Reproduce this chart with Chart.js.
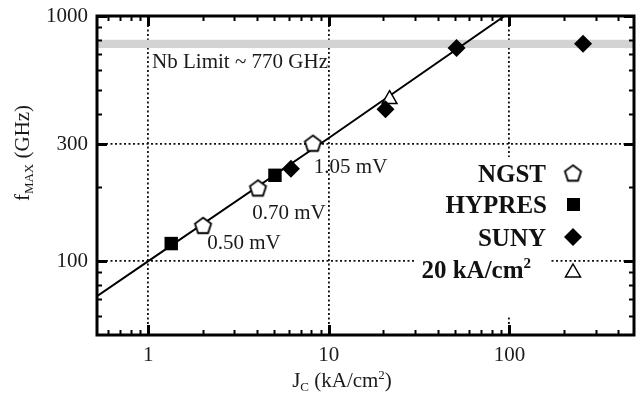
<!DOCTYPE html>
<html>
<head>
<meta charset="utf-8">
<script src="https://cdn.jsdelivr.net/npm/chart.js@4.4.1/dist/chart.umd.min.js"></script>
<style>
  html, body { margin: 0; padding: 0; background: #fff; }
  canvas { display: block; }
</style>
</head>
<body>
<canvas id="fmaxChart" width="644" height="399"></canvas>
<script>
// Jc in kA/cm2, fMAX in GHz
const ngstJc = [2.01, 4.05, 8.16];
const ngstF = [140, 199, 303];
const hypresJc = [1.34, 5.03];
const hypresF = [118, 224];
const sunyJc = [6.17, 20.6, 51, 256];
const sunyF = [238, 417, 740, 770];
const jc20Jc = [21.7];
const jc20F = [458];
// the fit line
const fitJc = [0.52, 1, 10, 94];
const fitF = [72, 100, 318, 1000];
// Nb limit band (GHz)
const nbLimitBand = [740, 800];

const xMajorTicks = [1, 10, 100];
const xMinorTicks = [0.6, 0.7, 0.8, 0.9, 2, 3, 4, 5, 6, 7, 8, 9, 20, 30, 40, 50, 60, 70, 80, 90, 200, 300, 400];
const yMajorTicks = [100, 300, 1000];
const yMinorTicks = [60, 70, 80, 90, 200, 400, 500, 600, 700, 800, 900];
const xGridAt = [1, 10, 100];
const yGridAt = [100, 300];

const voltageLabels = ['0.50 mV', '0.70 mV', '1.05 mV'];
const voltageJc = [2.12, 3.76, 8.26];
const voltageF = [118, 157, 242];
const nbLimitText = 'Nb Limit ~ 770 GHz';

const serif = '"Liberation Serif", "Times New Roman", serif';
const pts = (xs, ys) => xs.map((v, i) => ({x: v, y: ys[i]}));

function pentagon(r) {
  const s = Math.ceil(r * 2 + 4);
  const c = document.createElement('canvas');
  c.width = s; c.height = s;
  const g = c.getContext('2d');
  g.beginPath();
  for (let i = 0; i < 5; i++) {
    const a = -Math.PI / 2 + i * 2 * Math.PI / 5;
    const px = s / 2 + r * Math.cos(a), py = s / 2 + r * Math.sin(a) + r * 0.1;
    if (i) g.lineTo(px, py); else g.moveTo(px, py);
  }
  g.closePath();
  g.fillStyle = '#fff';
  g.fill();
  g.lineWidth = 1.8;
  g.strokeStyle = '#000';
  g.stroke();
  return c;
}
const penta = pentagon(8.5);

// draws text pieces [text, size, dy] one after another
function richText(ctx, parts, x, y, align, bold) {
  const w = parts.reduce((s, p) => {
    ctx.font = (bold ? 'bold ' : '') + p[1] + 'px ' + serif;
    return s + ctx.measureText(p[0]).width;
  }, 0);
  let cx = align === 'center' ? x - w / 2 : (align === 'right' ? x - w : x);
  ctx.textAlign = 'left';
  ctx.textBaseline = 'alphabetic';
  for (const p of parts) {
    ctx.font = (bold ? 'bold ' : '') + p[1] + 'px ' + serif;
    ctx.fillText(p[0], cx, y + p[2]);
    cx += ctx.measureText(p[0]).width;
  }
}

const decor = {
  id: 'decor',
  beforeDatasetsDraw(chart) {
    const {ctx, chartArea: a, scales: {x, y}} = chart;
    ctx.save();
    // Nb limit band
    const yTop = y.getPixelForValue(nbLimitBand[1]);
    const yBot = y.getPixelForValue(nbLimitBand[0]);
    ctx.fillStyle = '#d3d3d3';
    ctx.fillRect(a.left, yTop, a.right - a.left, yBot - yTop);
    // white box behind the legend
    ctx.fillStyle = '#fff';
    ctx.fillRect(416, 157, 134, 158);
    ctx.fillStyle = '#1a1a1a';
    ctx.font = '21px ' + serif;
    ctx.textAlign = 'left';
    ctx.textBaseline = 'middle';
    ctx.fillText(nbLimitText, x.getPixelForValue(1.05), y.getPixelForValue(649));
    voltageLabels.forEach((t, i) => {
      ctx.fillText(t, x.getPixelForValue(voltageJc[i]), y.getPixelForValue(voltageF[i]));
    });
    ctx.restore();
  },
  afterDraw(chart) {
    const {ctx, chartArea: a, scales: {x, y}} = chart;
    ctx.save();
    ctx.strokeStyle = '#000';
    const line = (x1, y1, x2, y2, w) => {
      ctx.lineWidth = w;
      ctx.beginPath(); ctx.moveTo(x1, y1); ctx.lineTo(x2, y2); ctx.stroke();
    };
    xMajorTicks.concat(xMinorTicks).forEach(v => {
      const major = xMajorTicks.includes(v);
      const px = Math.round(x.getPixelForValue(v)) + 0.5;
      const len = major ? 10 : 5;
      line(px, a.bottom, px, a.bottom - len, major ? 3 : 2);
      line(px, a.top, px, a.top + len, major ? 3 : 2);
    });
    yMajorTicks.concat(yMinorTicks).forEach(v => {
      const major = yMajorTicks.includes(v);
      const py = Math.round(y.getPixelForValue(v)) + 0.5;
      const len = major ? 10 : 5;
      line(a.left, py, a.left + len, py, major ? 3 : 2);
      line(a.right, py, a.right - len, py, major ? 3 : 2);
    });
    ctx.lineWidth = 3;
    ctx.strokeRect(a.left, a.top, a.right - a.left, a.bottom - a.top);

    // axis titles
    ctx.fillStyle = '#1a1a1a';
    richText(ctx, [['J', 21, 0], ['C', 13, 4], [' (kA/cm', 21, 0], ['2', 13, -8], [')', 21, 0]], 342, 387, 'center', false);
    ctx.save();
    ctx.translate(29, 153);
    ctx.rotate(-Math.PI / 2);
    richText(ctx, [['f', 21, 0], ['MAX', 13, 4], [' (GHz)', 21, 0]], 0, 0, 'center', false);
    ctx.restore();

    // legend
    ctx.fillStyle = '#111';
    richText(ctx, [['NGST', 25, 0]], 546, 182, 'right', true);
    richText(ctx, [['HYPRES', 25, 0]], 547, 213, 'right', true);
    richText(ctx, [['SUNY', 25, 0]], 546, 246, 'right', true);
    richText(ctx, [['20 kA/cm', 25, 0], ['2', 15, -10]], 531, 278, 'right', true);
    ctx.drawImage(penta, 573 - penta.width / 2, 173 - penta.height / 2);
    ctx.fillStyle = '#000';
    ctx.fillRect(567, 198, 13, 13);
    ctx.beginPath();
    ctx.moveTo(573, 228); ctx.lineTo(582, 237); ctx.lineTo(573, 246); ctx.lineTo(564, 237);
    ctx.closePath(); ctx.fill();
    ctx.lineWidth = 1.5;
    ctx.fillStyle = '#fff';
    ctx.beginPath();
    ctx.moveTo(573, 264); ctx.lineTo(580.5, 277); ctx.lineTo(565.5, 277);
    ctx.closePath(); ctx.fill(); ctx.stroke();
    ctx.restore();
  }
};

const tickFont = {family: serif, size: 21};
const noPad = s => { s.paddingTop = 0; s.paddingBottom = 0; s.paddingLeft = 0; s.paddingRight = 0; };

new Chart(document.getElementById('fmaxChart'), {
  type: 'scatter',
  data: {
    datasets: [
      {
        label: 'fit', data: pts(fitJc, fitF), showLine: true,
        borderColor: '#000', borderWidth: 2, pointRadius: 0, order: 10
      },
      {
        label: 'HYPRES', data: pts(hypresJc, hypresF), pointStyle: 'rect',
        pointRadius: 9.5, backgroundColor: '#000', borderColor: '#000', borderWidth: 0, order: 2
      },
      {
        label: 'SUNY', data: pts(sunyJc, sunyF), pointStyle: 'rectRot',
        pointRadius: 9, backgroundColor: '#000', borderColor: '#000', borderWidth: 0, order: 2
      },
      {
        label: 'NGST', data: pts(ngstJc, ngstF), pointStyle: penta,
        pointRadius: 9, order: 1
      },
      {
        label: '20 kA/cm2', data: pts(jc20Jc, jc20F), pointStyle: 'triangle',
        pointRadius: 8.5, backgroundColor: '#fff', borderColor: '#000', borderWidth: 1.5, order: 3
      }
    ]
  },
  options: {
    responsive: false,
    devicePixelRatio: 1,
    animation: false,
    layout: {padding: {top: 16, right: 9, left: 0, bottom: 0}},
    plugins: {legend: {display: false}, tooltip: {enabled: false}},
    scales: {
      x: {
        type: 'logarithmic', min: 0.52, max: 490,
        afterBuildTicks: s => { s.ticks = xMajorTicks.concat(xMinorTicks).sort((p, q) => p - q).map(v => ({value: v})); },
        afterFit: s => { s.height = 64; noPad(s); },
        ticks: {
          autoSkip: false, maxRotation: 0, padding: 8, color: '#1a1a1a', font: tickFont,
          callback: v => xMajorTicks.includes(v) ? String(v) : ''
        },
        grid: {
          drawTicks: false, lineWidth: 1.8,
          color: c => xGridAt.includes(c.tick.value) ? '#111' : 'rgba(0,0,0,0)'
        },
        border: {display: false, dash: [2, 2.5]}
      },
      y: {
        type: 'logarithmic', min: 50, max: 1000,
        afterBuildTicks: s => { s.ticks = yMajorTicks.concat(yMinorTicks).sort((p, q) => p - q).map(v => ({value: v})); },
        afterFit: s => { s.width = 97; noPad(s); },
        ticks: {
          autoSkip: false, padding: 9, color: '#1a1a1a', font: tickFont,
          callback: v => yMajorTicks.includes(v) ? String(v) : ''
        },
        grid: {
          drawTicks: false, lineWidth: 1.8,
          color: c => yGridAt.includes(c.tick.value) ? '#111' : 'rgba(0,0,0,0)'
        },
        border: {display: false, dash: [2, 2.5]}
      }
    }
  },
  plugins: [decor]
});
</script>
</body>
</html>
